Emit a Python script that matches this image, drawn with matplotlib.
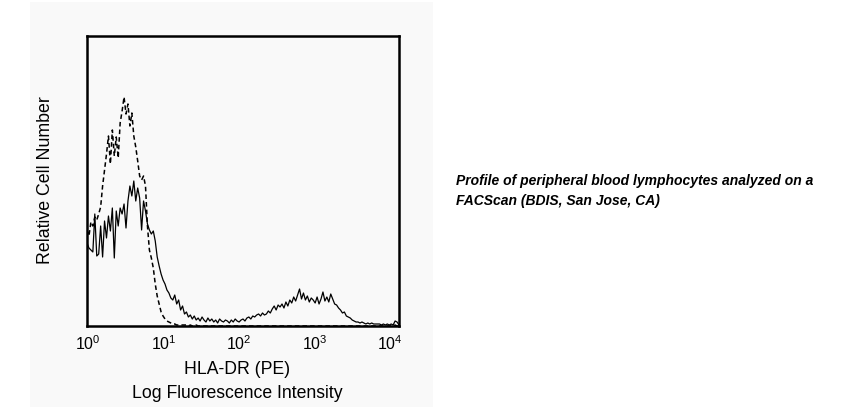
import numpy as np
import matplotlib
matplotlib.use("Agg")
import matplotlib.pyplot as plt
from matplotlib.patches import Rectangle
from matplotlib.transforms import ScaledTranslation

plt.rcParams['font.family'] = ['Liberation Sans', 'DejaVu Sans']
plt.rcParams['mathtext.fontset'] = 'custom'
plt.rcParams['mathtext.rm'] = 'Liberation Sans'
plt.rcParams['mathtext.default'] = 'regular'

# channel positions (log10 fluorescence), 0.025 decade apart
log_channels = np.linspace(0.0, 4.0, 161)

# HLA-DR stained sample (solid)
hla_dr_counts = [
    83, 78, 76, 74, 112, 70, 72, 100, 69, 105,
    88, 110, 95, 118, 68, 115, 100, 118, 112, 122,
    98, 125, 140, 130, 145, 125, 138, 128, 96, 125,
    115, 102, 96, 92, 95, 85, 69, 60, 52, 46,
    42, 36, 33, 28, 26, 31, 22, 26, 16, 20,
    12, 14, 9, 11, 7, 10, 6, 8, 5, 9,
    6, 4, 8, 5, 7, 4, 6, 3, 7, 5,
    4, 6, 5, 3, 6, 4, 7, 5, 4, 6,
    7, 5, 8, 9, 7, 10, 9, 11, 12, 10,
    13, 11, 12, 15, 13, 17, 20, 16, 21, 19,
    22, 18, 24, 20, 26, 23, 29, 25, 31, 37,
    27, 33, 26, 30, 24, 28, 26, 23, 29, 22,
    27, 34, 25, 29, 24, 32, 27, 22, 21, 18,
    16, 13, 14, 10, 9, 8, 6, 5, 4, 4,
    3, 4, 3, 2, 3, 2, 3, 2, 2, 2,
    2, 1, 2, 1, 2, 1, 2, 1, 5, 4, 1,
]

# isotype control (dashed)
control_counts = [
    96, 90, 104, 100, 109, 106, 112, 119, 140, 156,
    172, 190, 162, 196, 170, 189, 168, 203, 215, 229,
    212, 222, 200, 213, 190, 179, 165, 150, 146, 150,
    140, 100, 76, 68, 58, 42, 30, 22, 14, 10,
    7, 5, 4, 3, 2, 2, 1, 1, 1, 1,
    1, 1, 0, 1, 0, 0, 1, 0, 0, 0,
    0, 0, 0, 0, 0, 0, 0, 0, 0, 0,
    0, 0, 0, 0, 0, 0, 0, 0, 0, 0,
    0, 0, 0, 0, 0, 0, 0, 0, 0, 0,
    0, 0, 0, 0, 0, 0, 0, 0, 0, 0,
    0, 0, 0, 0, 0, 0, 0, 0, 0, 0,
    0, 0, 0, 0, 0, 0, 0, 0, 0, 0,
    0, 0, 0, 0, 0, 0, 0, 0, 0, 0,
    0, 0, 0, 0, 0, 0, 0, 0, 0, 0,
    0, 0, 0, 0, 0, 0, 0, 0, 0, 0,
    0, 0, 0, 0, 0, 0, 0, 0, 1, 0, 0,
]

x_ticks = [1, 10, 100, 1000, 10000]
x_label_1 = "HLA-DR (PE)"
x_label_2 = "Log Fluorescence Intensity"
y_label = "Relative Cell Number"
caption = "Profile of peripheral blood lymphocytes analyzed on a\nFACScan (BDIS, San Jose, CA)"

fig = plt.figure(figsize=(8.49, 4.09), dpi=100)
fig.patch.set_facecolor('white')
fig.patches.append(Rectangle((30/849, 1-407/409), (433-30)/849, (407-2)/409,
                             transform=fig.transFigure, facecolor='#f9f9f9',
                             edgecolor='none', zorder=-10))

ax = fig.add_axes([87/849, 1-326/409, (399-87)/849, (326-36)/409])
ax.set_facecolor('#f9f9f9')
xs = 10 ** log_channels
ax.plot(xs, control_counts, color='black', lw=1.1, ls=(0, (3, 2)))
ax.plot(xs, hla_dr_counts, color='black', lw=0.9)
ax.set_xscale('log')
ax.set_xlim(1, 10000)
ax.set_ylim(0, 290)
ax.set_xticks(x_ticks)
ax.minorticks_off()
ax.set_yticks([])
ax.tick_params(axis='x', length=0, pad=6, labelsize=11.5)
for s in ax.spines.values():
    s.set_linewidth(1.8)
    s.set_color('black')

# the printed labels sit slightly left of the decade positions in the original
for i, lab in enumerate(ax.get_xticklabels()):
    dx = (1 - 2.5 * i) / 100.0
    lab.set_transform(lab.get_transform() + ScaledTranslation(dx, 0, fig.dpi_scale_trans))

fig.text(237/849, 1-370/409, x_label_1, ha='center', va='center', fontsize=12.7)
fig.text(237/849, 1-393/409, x_label_2, ha='center', va='center', fontsize=12.7)
fig.text(45.5/849, 1-180/409, y_label, ha='center', va='center', rotation=90, fontsize=12.8)
fig.text(456/849, 1-191/409, caption, ha='left', va='center', fontsize=10,
         fontweight='bold', fontstyle='italic', linespacing=1.5)

fig.savefig('out.png', dpi=100)
